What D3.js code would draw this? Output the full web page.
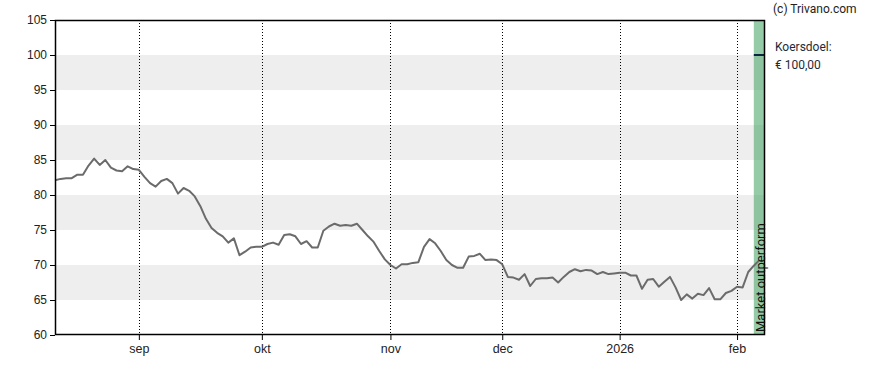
<!DOCTYPE html>
<html>
<head>
<meta charset="utf-8">
<script src="https://cdn.jsdelivr.net/npm/d3@7.9.0/dist/d3.min.js"></script>
<style>
  body { margin: 0; background: #fff; }
  svg { display: block; font-family: Roboto, "Liberation Sans", sans-serif; }
  .tick text { fill: #222; font-size: 12px; }
</style>
</head>
<body>
<svg id="chart" width="888" height="370"></svg>
<script>
// closing prices per trading day (mid Aug 2025 .. 6 feb 2026)
const prices = [
  82.1, 82.3, 82.4, 82.4, 82.9, 82.9, 84.2, 85.2, 84.3, 85.0,
  83.9, 83.5, 83.4, 84.1, 83.7, 83.6, 82.6, 81.7, 81.2, 82.0,
  82.3, 81.7, 80.2, 81.0, 80.6, 79.8, 78.4, 76.6, 75.3, 74.6,
  74.1, 73.2, 73.8, 71.4, 71.9, 72.5, 72.6, 72.6, 73.0, 73.2,
  72.9, 74.3, 74.4, 74.1, 73.0, 73.4, 72.5, 72.5, 74.9, 75.5,
  75.9, 75.6, 75.7, 75.6, 75.9, 75.0, 74.1, 73.3, 72.0, 70.8,
  70.0, 69.5, 70.1, 70.1, 70.3, 70.4, 72.6, 73.7, 73.1, 72.0,
  70.7, 70.0, 69.6, 69.6, 71.2, 71.3, 71.6, 70.7, 70.8, 70.7,
  70.1, 68.3, 68.2, 67.9, 68.7, 67.0, 68.0, 68.1, 68.1, 68.2,
  67.5, 68.3, 69.0, 69.4, 69.1, 69.3, 69.2, 68.7, 69.0, 68.7,
  68.8, 68.9, 68.9, 68.5, 68.5, 66.6, 67.9, 68.0, 66.9, 67.6,
  68.3, 66.8, 65.0, 65.8, 65.2, 65.9, 65.7, 66.7, 65.1, 65.1,
  66.0, 66.3, 66.9, 66.8, 69.0, 69.9, 70.7
];

// month ticks: first trading day index of each month
const monthLabels = ['sep', 'okt', 'nov', 'dec', '2026', 'feb'];
const monthIndex = [15, 37, 60, 80, 101, 122];

const yTicks = [60, 65, 70, 75, 80, 85, 90, 95, 100, 105];
const bands = [[65, 70], [75, 80], [85, 90], [95, 100]];

const target = 100;
const targetText = ['Koersdoel:', '€ 100,00'];
const adviceText = 'Market outperform';
const adviceStart = 125; // index where advice bar begins
const credit = '(c) Trivano.com';

const margin = { top: 20, right: 123, bottom: 35, left: 55 };
const width = 888, height = 370;
const innerW = width - margin.left - margin.right;
const innerH = height - margin.top - margin.bottom;

const svg = d3.select('#chart');

const x = d3.scaleLinear().domain([0, prices.length]).range([margin.left, margin.left + innerW]);
const y = d3.scaleLinear().domain([60, 105]).range([margin.top + innerH, margin.top]);

// grey bands
svg.append('g').selectAll('rect')
  .data(bands)
  .join('rect')
  .attr('x', margin.left)
  .attr('width', innerW)
  .attr('y', d => y(d[1]))
  .attr('height', d => y(d[0]) - y(d[1]))
  .attr('fill', '#eeeeee');

// dotted month lines
svg.append('g').selectAll('line')
  .data(monthIndex)
  .join('line')
  .attr('x1', d => Math.round(x(d)) + 0.5)
  .attr('x2', d => Math.round(x(d)) + 0.5)
  .attr('y1', margin.top)
  .attr('y2', margin.top + innerH)
  .attr('stroke', '#000')
  .attr('stroke-dasharray', '1,2');

// advice bar
svg.append('rect')
  .attr('x', x(adviceStart))
  .attr('width', x(prices.length) - x(adviceStart))
  .attr('y', margin.top)
  .attr('height', innerH)
  .attr('fill', 'rgb(52,155,85)')
  .attr('fill-opacity', 0.52);

// target marker
svg.append('line')
  .attr('x1', x(adviceStart))
  .attr('x2', x(prices.length))
  .attr('y1', y(target))
  .attr('y2', y(target))
  .attr('stroke', '#0b2540')
  .attr('stroke-width', 2);

// price line
svg.append('path')
  .datum(prices)
  .attr('fill', 'none')
  .attr('stroke', '#6b6b6b')
  .attr('stroke-width', 2)
  .attr('stroke-linejoin', 'round')
  .attr('d', d3.line().x((d, i) => x(i)).y(d => y(d)));

// axes
const yAxis = d3.axisLeft(y).tickValues(yTicks).tickSize(5).tickPadding(3);
svg.append('g')
  .attr('transform', `translate(${margin.left},0)`)
  .call(yAxis)
  .call(g => g.select('.domain').remove())
  .call(g => g.selectAll('.tick line').attr('stroke', '#000'));

const xAxis = d3.axisBottom(x)
  .tickValues(monthIndex)
  .tickFormat((d, i) => monthLabels[i])
  .tickSize(5).tickPadding(4);
svg.append('g')
  .attr('transform', `translate(0,${margin.top + innerH})`)
  .call(xAxis)
  .call(g => g.select('.domain').remove())
  .call(g => g.selectAll('.tick line').attr('stroke', '#000'))
  .call(g => g.selectAll('.tick text').style('font-size', '12.5px'));

// frame
svg.append('rect')
  .attr('x', margin.left + 0.5)
  .attr('y', margin.top + 0.5)
  .attr('width', innerW - 1)
  .attr('height', innerH - 1)
  .attr('fill', 'none')
  .attr('stroke', '#000')
  .attr('stroke-width', 1.5);

// advice text
svg.append('text')
  .attr('transform', `translate(${x(prices.length) - 0.5},${margin.top + innerH - 3}) rotate(-90)`)
  .attr('font-size', 13)
  .attr('fill', '#111')
  .text(adviceText);

// labels on the right
svg.append('text')
  .attr('x', 773).attr('y', 13)
  .attr('font-size', 12).attr('fill', '#222')
  .text(credit);

svg.append('g').selectAll('text')
  .data(targetText)
  .join('text')
  .attr('x', 775)
  .attr('y', (d, i) => 51 + i * 18)
  .attr('font-size', 12)
  .attr('fill', '#1c2b3a')
  .text(d => d);
</script>
</body>
</html>
